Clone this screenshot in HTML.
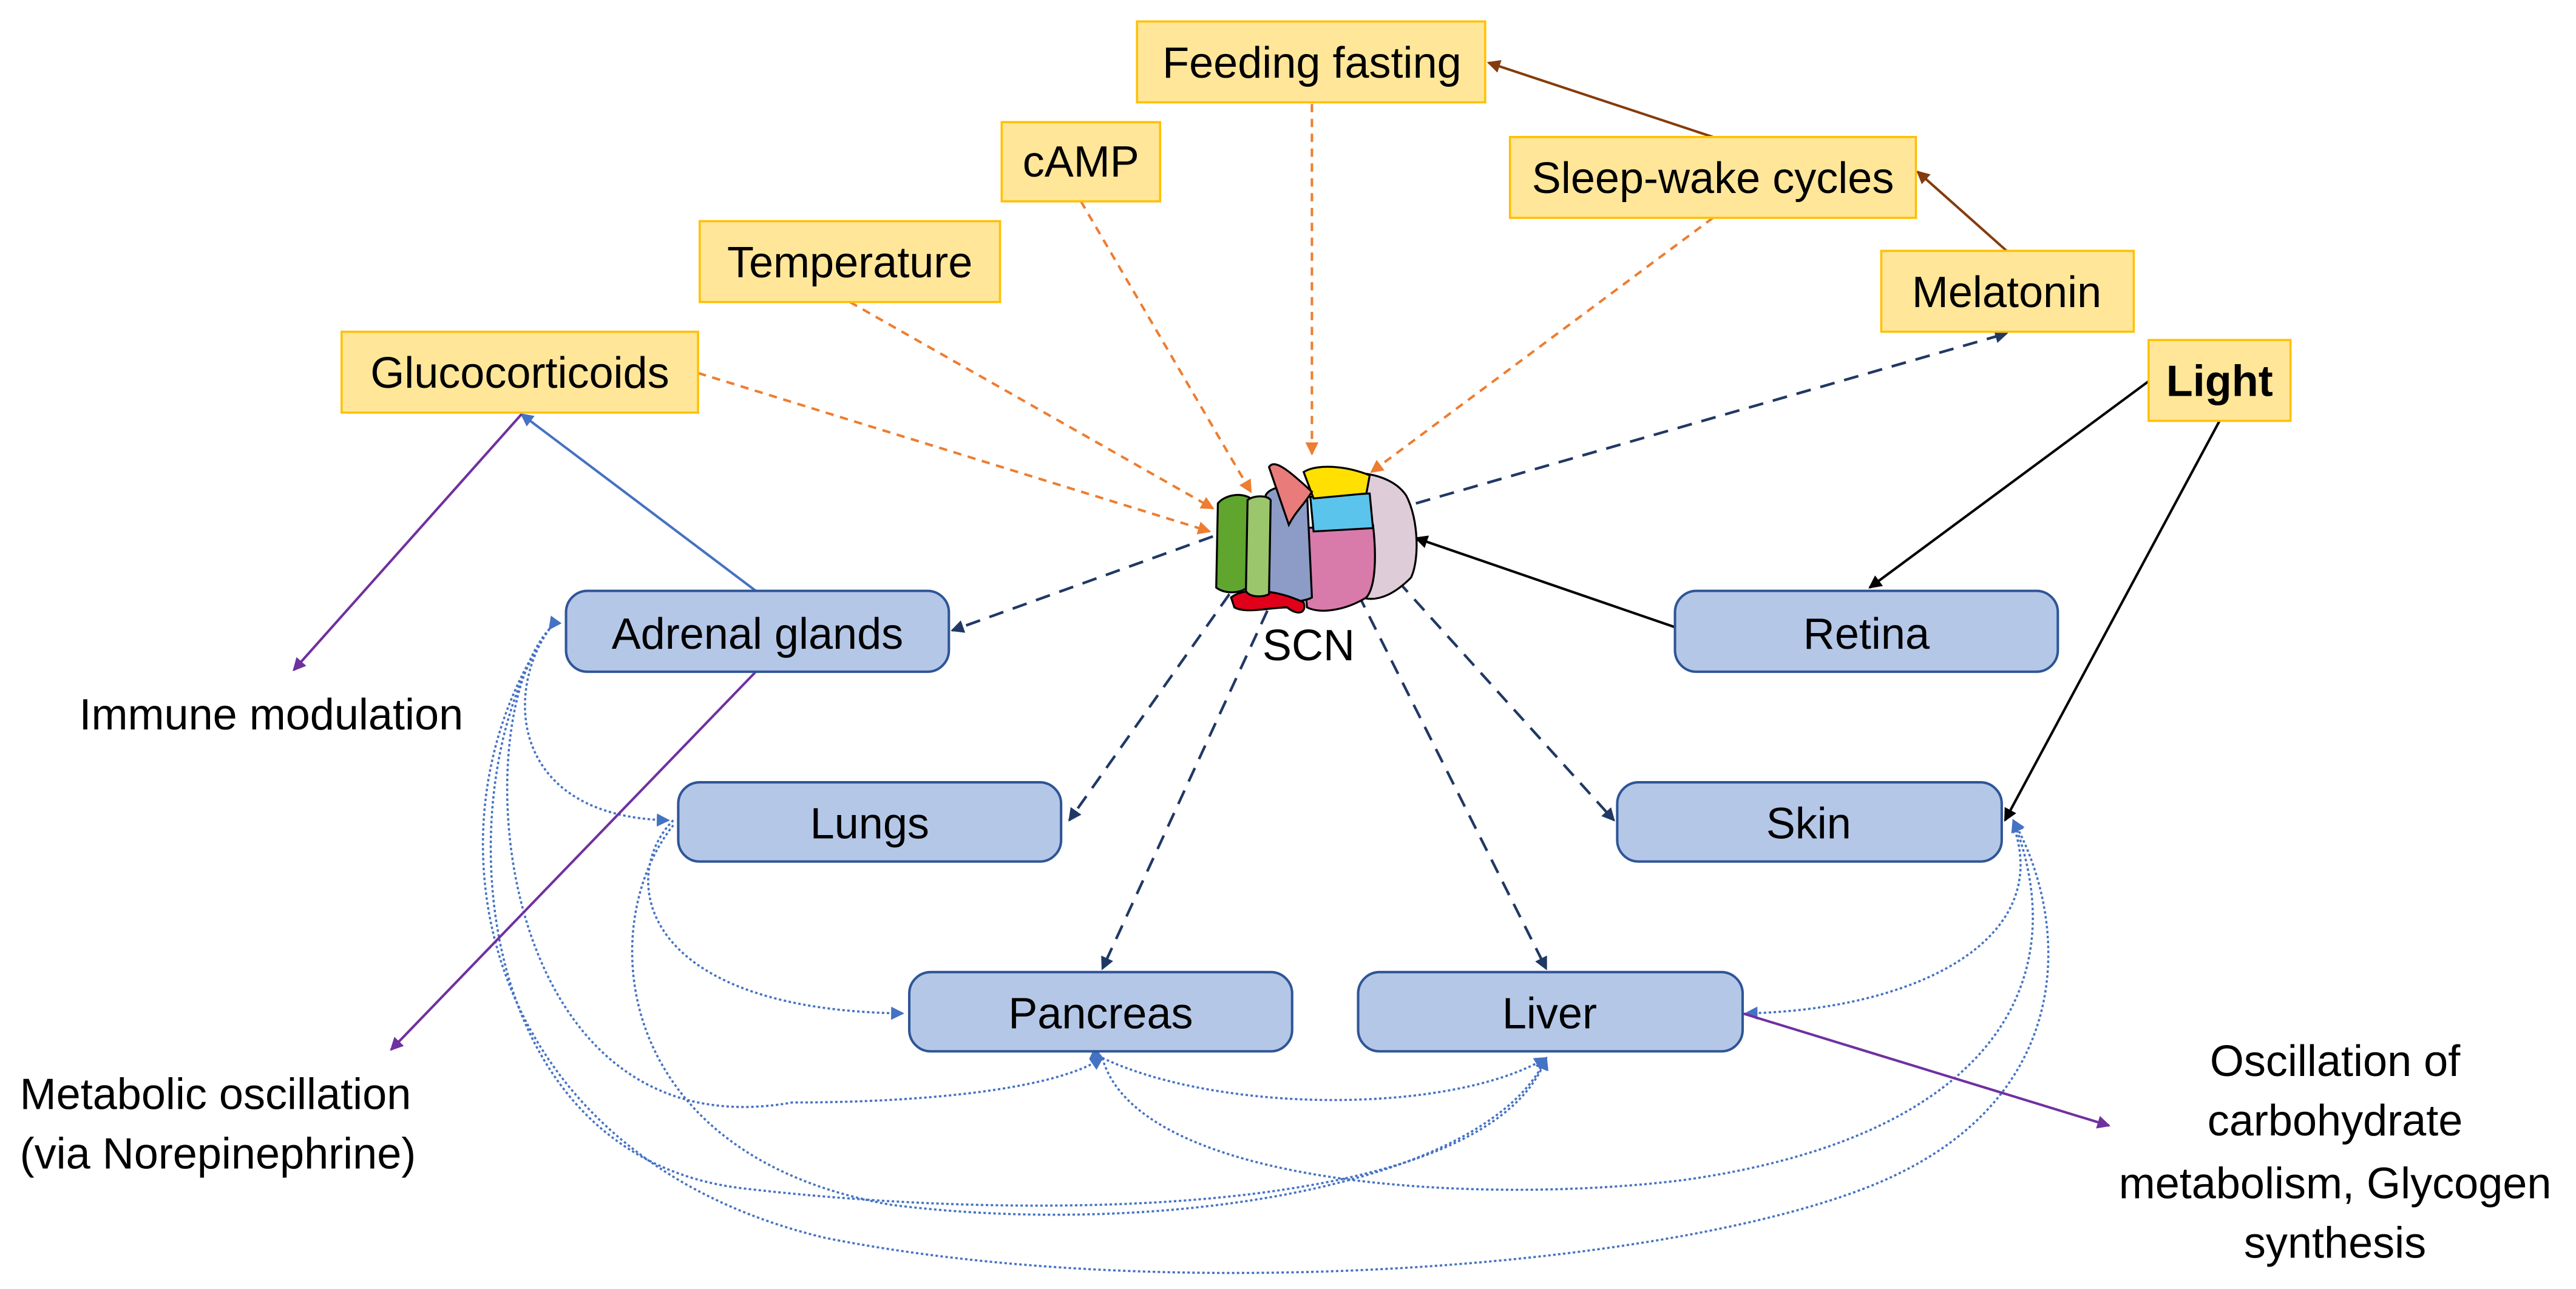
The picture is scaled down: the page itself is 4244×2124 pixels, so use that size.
<!DOCTYPE html>
<html><head><meta charset="utf-8"><style>
html,body{margin:0;padding:0;background:#fff;}
svg{display:block}
text{font-family:"Liberation Sans",sans-serif;font-size:26.5px;fill:#000;}
</style></head><body>
<svg width="4244" height="2124" viewBox="0 0 1561 781" preserveAspectRatio="none" xmlns="http://www.w3.org/2000/svg">
<defs>
<marker id="ao" markerWidth="8" markerHeight="8" refX="7" refY="4" orient="auto" markerUnits="userSpaceOnUse"><path d="M0,0 L8,4 L0,8 z" fill="#ED7D31"/></marker>
<marker id="an" markerWidth="8" markerHeight="8" refX="7" refY="4" orient="auto" markerUnits="userSpaceOnUse"><path d="M0,0 L8,4 L0,8 z" fill="#203864"/></marker>
<marker id="ak" markerWidth="8" markerHeight="8" refX="7" refY="4" orient="auto" markerUnits="userSpaceOnUse"><path d="M0,0 L8,4 L0,8 z" fill="#000"/></marker>
<marker id="ab" markerWidth="8" markerHeight="8" refX="7" refY="4" orient="auto" markerUnits="userSpaceOnUse"><path d="M0,0 L8,4 L0,8 z" fill="#843C0C"/></marker>
<marker id="ap" markerWidth="8" markerHeight="8" refX="7" refY="4" orient="auto" markerUnits="userSpaceOnUse"><path d="M0,0 L8,4 L0,8 z" fill="#7030A0"/></marker>
<marker id="al" markerWidth="8" markerHeight="8" refX="7" refY="4" orient="auto" markerUnits="userSpaceOnUse"><path d="M0,0 L8,4 L0,8 z" fill="#4472C4"/></marker>
</defs>

<g fill="none" stroke="#4472C4" stroke-width="1.3" stroke-dasharray="1.5,1.5">
<path d="M333,381 C305,420 310,495 405,497" marker-end="url(#al)" marker-start="url(#al)"/>
<path d="M408,497 C375,530 385,612 547,614" marker-end="url(#al)"/>
<path d="M333,381 C280,440 300,700 480,668 C560,668 640,660 668,641" marker-end="url(#al)"/>
<path d="M408,500 C360,560 370,700 540,730 C700,750 900,720 937,641" marker-end="url(#al)"/>
<path d="M333,381 C270,470 280,700 450,720 C620,740 900,740 937,641" marker-end="url(#al)"/>
<path d="M668,641 C740,675 880,675 937,641" marker-end="url(#al)" marker-start="url(#al)"/>
<path d="M668,641 C690,720 900,730 1020,715 C1200,690 1260,600 1220,497" marker-end="url(#al)"/>
<path d="M1220,500 C1245,570 1160,612 1058,614" marker-end="url(#al)"/>
<path d="M333,381 C250,500 290,700 500,750 C700,790 1000,770 1130,720 C1260,670 1255,560 1220,497" marker-end="url(#al)"/>
</g>

<g fill="none" stroke="#ED7D31" stroke-width="1.5" stroke-dasharray="5,4">
<path d="M795,63 L795,275" marker-end="url(#ao)"/>
<path d="M655,122 L758,298" marker-end="url(#ao)"/>
<path d="M515,183 L735,308" marker-end="url(#ao)"/>
<path d="M423,226 L733,322" marker-end="url(#ao)"/>
<path d="M1038,132 L831,286" marker-end="url(#ao)"/>
</g>
<g fill="none" stroke="#843C0C" stroke-width="1.5">
<path d="M1038,83 L902,38" marker-end="url(#ab)"/>
<path d="M1216,152 L1162,104" marker-end="url(#ab)"/>
</g>
<g fill="none" stroke="#203864" stroke-width="1.6" stroke-dasharray="9,6">
<path d="M858,305 L1216,202" marker-end="url(#an)"/>
<path d="M735,325 L577,382" marker-end="url(#an)"/>
<path d="M745,360 L648,497" marker-end="url(#an)"/>
<path d="M768,370 L668,587" marker-end="url(#an)"/>
<path d="M823,360 L937,587" marker-end="url(#an)"/>
<path d="M847,352 L978,497" marker-end="url(#an)"/>
</g>
<g fill="none" stroke="#000" stroke-width="1.5">
<path d="M1015,380 L858,326" marker-end="url(#ak)"/>
<path d="M1302,231 L1133,356" marker-end="url(#ak)"/>
<path d="M1345,255 L1215,497" marker-end="url(#ak)"/>
</g>
<path d="M458,358 L316,251" stroke="#4472C4" stroke-width="1.5" fill="none" marker-end="url(#al)"/>
<g fill="none" stroke="#7030A0" stroke-width="1.5">
<path d="M316,251 L178,406" marker-end="url(#ap)"/>
<path d="M458,407 L237,636" marker-end="url(#ap)"/>
<path d="M1056,614 L1278,682" marker-end="url(#ap)"/>
</g>

<g fill="#FFE699" stroke="#FFC000" stroke-width="1.3">
<rect x="689" y="13" width="211" height="49"/>
<rect x="607" y="74" width="96" height="48"/>
<rect x="424" y="134" width="182" height="49"/>
<rect x="207" y="201" width="216" height="49"/>
<rect x="915" y="83" width="246" height="49"/>
<rect x="1140" y="152" width="153" height="49"/>
<rect x="1302" y="206" width="86" height="49"/>
</g>
<g text-anchor="middle">
<text x="795" y="47">Feeding fasting</text>
<text x="655" y="107">cAMP</text>
<text x="515" y="168">Temperature</text>
<text x="315" y="235">Glucocorticoids</text>
<text x="1038" y="117">Sleep-wake cycles</text>
<text x="1216" y="186">Melatonin</text>
<text x="1345" y="240" font-weight="bold">Light</text>
</g>

<g fill="#B4C7E7" stroke="#2F5597" stroke-width="1.5">
<rect x="343" y="358" width="232" height="49" rx="13"/>
<rect x="1015" y="358" width="232" height="49" rx="13"/>
<rect x="411" y="474" width="232" height="48" rx="13"/>
<rect x="980" y="474" width="233" height="48" rx="13"/>
<rect x="551" y="589" width="232" height="48" rx="13"/>
<rect x="823" y="589" width="233" height="48" rx="13"/>
</g>
<g text-anchor="middle">
<text x="459" y="393">Adrenal glands</text>
<text x="1131" y="393">Retina</text>
<text x="527" y="508">Lungs</text>
<text x="1096" y="508">Skin</text>
<text x="667" y="623">Pancreas</text>
<text x="939" y="623">Liver</text>
</g>

<g stroke="#000" stroke-width="1.2">
<path d="M812,287 C830,285 845,290 852,300 C860,315 860,340 855,350 C845,360 835,365 825,362 L812,300 z" fill="#DFCCD9"/>
<path d="M788,320 L832,318 C834,335 834,355 828,362 C815,370 800,372 792,368 z" fill="#D87BAA"/>
<path d="M794,301 L830,299 L832,320 L796,322 z" fill="#5BC4EC"/>
<path d="M790,286 C798,281 815,282 830,288 L828,299 L796,302 z" fill="#FFE000"/>
<path d="M767,300 C770,294 785,293 792,298 L795,362 C790,365 775,366 768,360 z" fill="#8C9CC6"/>
<path d="M769,283 C772,278 780,284 795,298 C790,306 785,310 781,318 z" fill="#EA7B7B"/>
<path d="M746,362 C755,355 775,358 790,365 C792,372 786,373 780,368 C770,368 755,372 748,368 z" fill="#E0001A"/>
<path d="M738,305 C742,300 752,298 758,302 L757,355 C752,360 742,360 737,356 z" fill="#5FA52E"/>
<path d="M756,303 C760,300 768,300 770,303 L769,360 C765,362 757,362 755,358 z" fill="#9BC66C"/>
</g>
<text x="793" y="400" text-anchor="middle">SCN</text>

<text x="48" y="442">Immune modulation</text>
<text x="12" y="672">Metabolic oscillation</text>
<text x="12" y="708">(via Norepinephrine)</text>
<g text-anchor="middle">
<text x="1415" y="652">Oscillation of</text>
<text x="1415" y="688">carbohydrate</text>
<text x="1415" y="726">metabolism, Glycogen</text>
<text x="1415" y="762">synthesis</text>
</g>
</svg>
</body></html>
